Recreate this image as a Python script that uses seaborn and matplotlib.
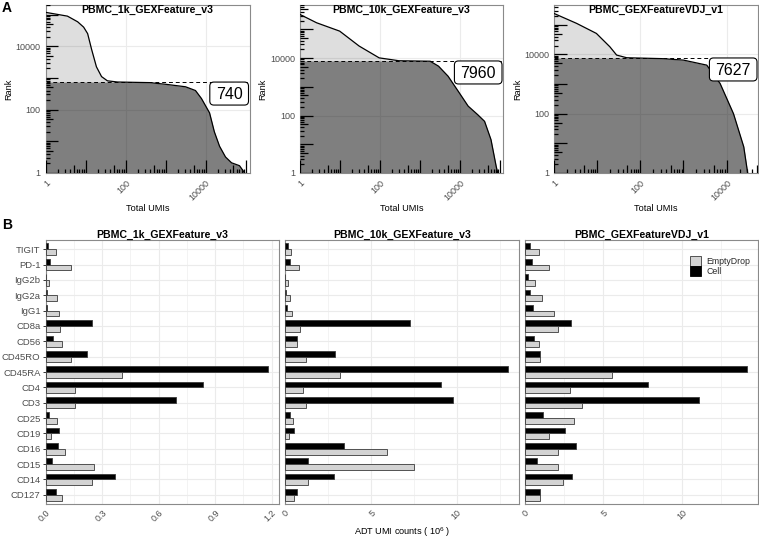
import numpy as np
import pandas as pd
import matplotlib
matplotlib.use("Agg")
import matplotlib.pyplot as plt
import matplotlib.transforms as mtransforms
from matplotlib.collections import LineCollection
from matplotlib.patches import Patch, FancyBboxPatch
import seaborn as sns

# ---------------- data ----------------
datasets = ["PBMC_1k_GEXFeature_v3", "PBMC_10k_GEXFeature_v3", "PBMC_GEXFeatureVDJ_v1"]
cell_threshold = [740, 7960, 7627]

umis_1k = [1, 3.5, 6.3, 8.9, 11.2, 14.1, 18.6, 25, 35, 63, 400, 1000, 3160, 5600,
           7900, 12600, 16600, 22400, 31600, 44700, 70800, 95500]
rank_1k = [117000, 89000, 59000, 40000, 25000, 7900, 2240, 1100, 810, 742, 710, 630,
           525, 400, 224, 79, 20, 7, 3.2, 2.1, 1.7, 1]

umis_10k = [1, 2.6, 9.8, 30, 95, 295, 1780, 2880, 5000, 8900, 15800, 27500, 40700,
            58900, 79400, 87000]
rank_10k = [331000, 170000, 87000, 26300, 10200, 8100, 7800, 5250, 2340, 710, 214,
            107, 63, 14.5, 1.7, 1]

umis_vdj = [1, 3.3, 9.5, 19.5, 28, 48, 316, 1000, 3470, 7080, 14500, 25100, 30900]
rank_vdj = [240000, 112000, 51300, 18200, 9550, 7760, 7240, 6460, 4370, 1050, 100,
            7.6, 1]

markers = ["TIGIT", "PD-1", "IgG2b", "IgG2a", "IgG1", "CD8a", "CD56", "CD45RO",
           "CD45RA", "CD4", "CD3", "CD25", "CD19", "CD16", "CD15", "CD14", "CD127"]
cell_1k = [0.014, 0.023, 0.002, 0.005, 0.007, 0.245, 0.041, 0.218, 1.18, 0.835, 0.694,
           0.019, 0.069, 0.067, 0.035, 0.368, 0.056]
empty_1k = [0.055, 0.136, 0.018, 0.058, 0.072, 0.078, 0.088, 0.136, 0.405, 0.157, 0.157,
            0.062, 0.030, 0.104, 0.254, 0.247, 0.086]
cell_10k = [0.19, 0.33, 0.04, 0.10, 0.12, 7.29, 0.74, 2.93, 12.98, 9.09, 9.79, 0.31,
            0.52, 3.47, 1.38, 2.85, 0.70]
empty_10k = [0.35, 0.83, 0.19, 0.33, 0.45, 0.89, 0.72, 1.22, 3.24, 1.07, 1.22, 0.48,
             0.23, 5.95, 7.52, 1.34, 0.56]
cell_vdj = [0.34, 0.49, 0.19, 0.32, 0.55, 2.95, 0.59, 0.97, 14.14, 7.83, 11.1, 1.16,
            2.53, 3.29, 0.80, 3.0, 0.97]
empty_vdj = [0.93, 1.56, 0.68, 1.10, 1.88, 2.13, 0.93, 0.99, 5.55, 2.91, 3.63, 3.14,
             1.56, 2.13, 2.13, 2.45, 0.99]

bar_ticks = [[0.0, 0.3, 0.6, 0.9, 1.2], [0, 5, 10], [0, 5, 10]]
bar_ticklabels = [["0.0", "0.3", "0.6", "0.9", "1.2"], ["0", "5", "10"], ["0", "5", "10"]]

# ---------------- style ----------------
sns.set_theme(style="white")
plt.rcParams["font.family"] = ["Liberation Sans", "DejaVu Sans"]
plt.rcParams["mathtext.fontset"] = "custom"
plt.rcParams["mathtext.rm"] = "Liberation Sans"

W, H, DPI = 759, 539, 100
fig = plt.figure(figsize=(W / DPI, H / DPI), dpi=DPI)
fig.patch.set_facecolor("white")

GRID = "#ebebeb"
BORDER = "#8a8a8a"
TICKTXT = "#4d4d4d"
TICK = "#333333"


def add_ax(l, t, r, b):
    return fig.add_axes([l / W, 1 - b / H, (r - l) / W, (b - t) / H])


def style_frame(ax):
    for s in ax.spines.values():
        s.set_color(BORDER)
        s.set_linewidth(0.8)


# ---------------- panel A ----------------
top_boxes = [(45.7, 4.7, 249.5, 173), (300, 4.7, 503, 173), (554.3, 4.7, 758, 173)]
x_max_top = [10 ** 5.1, 10 ** 5.07, 10 ** 4.73]
y_max_top = [10 ** 5.31, 10 ** 5.86, 10 ** 5.68]
knees = [(umis_1k, rank_1k), (umis_10k, rank_10k), (umis_vdj, rank_vdj)]

for i in range(3):
    l, t, r, b = top_boxes[i]
    ax = add_ax(l, t, r, b)
    ax.set_xscale("log")
    ax.set_yscale("log")
    ax.set_axisbelow(True)
    ax.set_xticks([1, 100, 10000])
    ax.set_yticks([1, 100, 10000])
    ax.set_xticklabels(["1", "100", "10000"])
    ax.set_yticklabels(["1", "100", "10000"])
    ax.xaxis.set_minor_locator(matplotlib.ticker.NullLocator())
    ax.yaxis.set_minor_locator(matplotlib.ticker.NullLocator())
    ax.grid(True, which="major", color=GRID, lw=0.8)
    style_frame(ax)

    x = np.array(knees[i][0], dtype=float)
    y = np.array(knees[i][1], dtype=float)
    thr = cell_threshold[i]
    ax.fill_between(x, 1, np.minimum(y, thr), color="black", alpha=0.5, lw=0, zorder=1)
    ax.fill_between(x, thr, y, where=y >= thr, interpolate=True, color="black",
                    alpha=0.13, lw=0, zorder=1)
    sns.lineplot(x=x, y=y, ax=ax, color="black", lw=0.9, sort=False, estimator=None,
                 zorder=3)
    ax.axhline(thr, color="black", lw=0.7, ls=(0, (4, 3)), zorder=2)
    ax.set_xlim(1, x_max_top[i])
    ax.set_ylim(1, y_max_top[i])

    # log ticks (annotation_logticks style)
    hpx = b - t
    wpx = r - l
    segs_b, segs_l = [], []
    lens = {1: 12.5, 5: 7.5}
    for n in range(0, 7):
        for k in range(1, 10):
            v = k * 10 ** n
            L = lens.get(k, 3.8)
            if v <= x_max_top[i]:
                segs_b.append([(v, 0), (v, L / hpx)])
            if v <= y_max_top[i]:
                segs_l.append([(0, v), (L / wpx, v)])
    tb = mtransforms.blended_transform_factory(ax.transData, ax.transAxes)
    tl = mtransforms.blended_transform_factory(ax.transAxes, ax.transData)
    ax.add_collection(LineCollection(segs_b, colors="black", linewidths=0.9,
                                     transform=tb, zorder=4))
    ax.add_collection(LineCollection(segs_l, colors="black", linewidths=0.9,
                                     transform=tl, zorder=4))
    ax.set_xlim(1, x_max_top[i])
    ax.set_ylim(1, y_max_top[i])

    ax.tick_params(axis="both", which="major", length=2.5, width=0.7, color=TICK,
                   labelsize=6.5, labelcolor=TICKTXT, pad=1.2)
    for lab in ax.get_xticklabels():
        lab.set_rotation(45)
        lab.set_ha("right")
        lab.set_va("top")
        lab.set_rotation_mode("anchor")
    ax.set_xlabel("")
    ax.set_ylabel("")

    # label box with the threshold
    fig.canvas.draw()
    thr_disp = ax.transData.transform((1, thr))[1]
    right_disp = ax.transAxes.transform((1, 0))[0] - 1
    fs_px = 16.0
    txt = str(thr)
    bw = len(txt) * 0.556 * fs_px + 12
    bh = 23
    box = FancyBboxPatch((right_disp - bw, thr_disp - bh), bw, bh,
                         boxstyle="round,pad=0,rounding_size=4",
                         transform=mtransforms.IdentityTransform(),
                         fc="white", ec="black", lw=0.8, zorder=6)
    box.set_clip_on(False)
    fig.patches.append(box)
    fig.text((right_disp - bw / 2) / W, (thr_disp - bh / 2 - 0.716 * fs_px / 2) / H,
             txt, ha="center", va="baseline", fontsize=fs_px * 0.72, color="black",
             zorder=7)

    # titles and axis labels
    fig.text((l + r) / 2 / W, 1 - 12.5 / H, datasets[i], ha="center", va="baseline",
             fontsize=7.6, fontweight="bold", color="black", zorder=8)
    fig.text((l + r) / 2 / W, 1 - 211 / H, "Total UMIs", ha="center", va="baseline",
             fontsize=6.6, color="black")
    fig.text((l - 37) / W, 1 - ((t + b) / 2) / H, "Rank", ha="center", va="center",
             rotation=90, fontsize=6.6, color="black")

fig.text(2 / W, 1 - 12 / H, "A", ha="left", va="baseline", fontsize=10,
         fontweight="bold", color="black")

# ---------------- panel B ----------------
bot_boxes = [(45.7, 240, 279, 504), (284.7, 240, 519.3, 504), (524.7, 240, 758.3, 504)]
bar_data = [(cell_1k, empty_1k), (cell_10k, empty_10k), (cell_vdj, empty_vdj)]
pal = {"Cell": "black", "EmptyDrop": "#d3d3d3"}

for i in range(3):
    l, t, r, b = bot_boxes[i]
    ax = add_ax(l, t, r, b)
    cell, empty = bar_data[i]
    d = pd.DataFrame({
        "marker": markers + markers,
        "type": ["Cell"] * len(markers) + ["EmptyDrop"] * len(markers),
        "value": list(cell) + list(empty),
    })
    sns.barplot(data=d, x="value", y="marker", hue="type", order=markers,
                hue_order=["Cell", "EmptyDrop"], palette=pal, orient="h", width=0.75,
                saturation=1, edgecolor="#3a3a3a", linewidth=0.6, errorbar=None,
                legend=False, ax=ax, zorder=3)
    vmax = max(max(cell), max(empty))
    ax.set_axisbelow(True)
    ax.set_xticks(bar_ticks[i])
    ax.set_xticklabels(bar_ticklabels[i])
    step = bar_ticks[i][1] - bar_ticks[i][0]
    ax.set_xticks([v + step / 2 for v in bar_ticks[i]], minor=True)
    ax.set_xlim(0, vmax * 1.05)
    ax.set_ylim(len(markers) - 0.4, -0.6)
    ax.grid(True, axis="x", which="major", color=GRID, lw=0.8)
    ax.grid(True, axis="x", which="minor", color=GRID, lw=0.4)
    ax.grid(True, axis="y", which="major", color=GRID, lw=0.8)
    style_frame(ax)
    ax.set_xlabel("")
    ax.set_ylabel("")
    ax.tick_params(axis="x", which="major", length=2.5, width=0.7, color=TICK,
                   labelsize=6.5, labelcolor=TICKTXT, pad=0.5)
    ax.tick_params(axis="x", which="minor", length=0)
    for lab in ax.get_xticklabels():
        lab.set_rotation(45)
        lab.set_ha("right")
        lab.set_va("top")
        lab.set_rotation_mode("anchor")
    if i == 0:
        ax.tick_params(axis="y", length=2.5, width=0.7, color=TICK, labelsize=6.8,
                       labelcolor=TICKTXT, pad=1.2, left=True)
    else:
        ax.tick_params(axis="y", length=0, labelleft=False)
    fig.text((l + r) / 2 / W, 1 - 237.5 / H, datasets[i], ha="center",
             va="baseline", fontsize=7.6, fontweight="bold", color="black")
    if i == 2:
        handles = [Patch(facecolor="#d3d3d3", edgecolor="#3a3a3a", lw=0.6,
                         label="EmptyDrop"),
                   Patch(facecolor="black", edgecolor="black", lw=0.6, label="Cell")]
        ax.legend(handles=handles, loc="upper left",
                  bbox_to_anchor=(690 / W, 1 - 256 / H), bbox_transform=fig.transFigure,
                  frameon=False, fontsize=6.3, handlelength=1.3, handleheight=1.4,
                  labelspacing=0.0, borderpad=0, borderaxespad=0, handletextpad=0.6)

fig.text((45.7 + 758.3) / 2 / W, 1 - 535 / H, r"ADT UMI counts ( $\mathregular{10^6}$ )",
         ha="center", va="baseline", fontsize=6.6, color="black")
fig.text(2 / W, 1 - 229 / H, "B", ha="left", va="baseline", fontsize=10,
         fontweight="bold", color="black")

fig.savefig("out.png", dpi=DPI, facecolor="white")
